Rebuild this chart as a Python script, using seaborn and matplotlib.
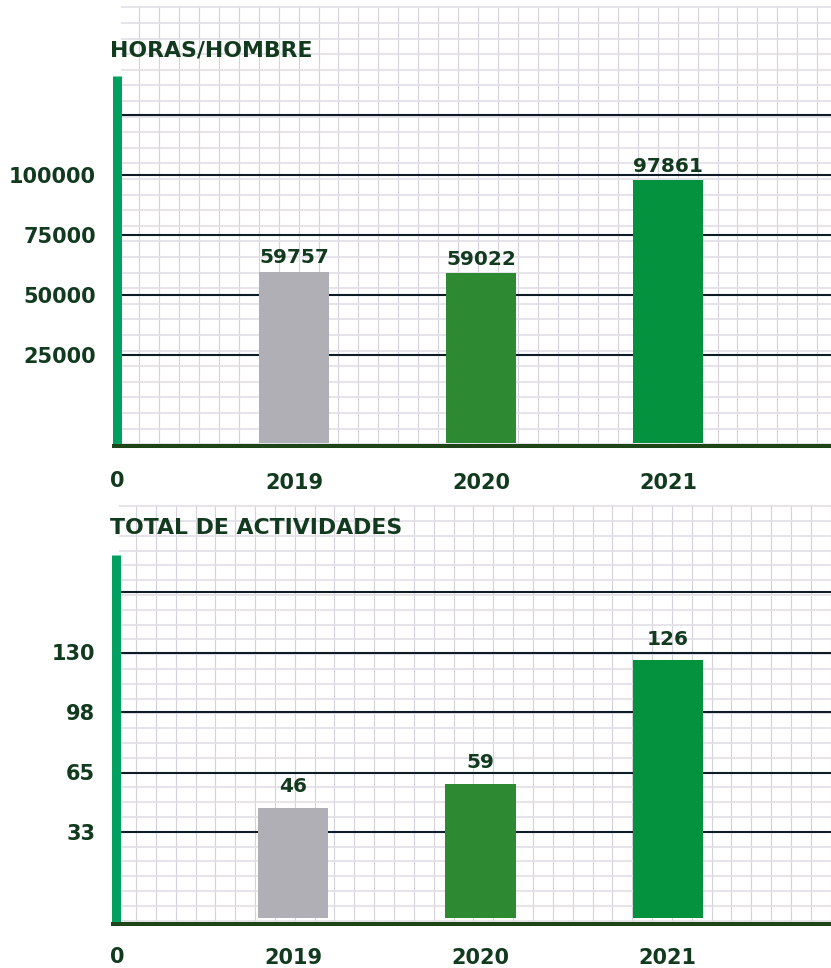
import numpy as np
import pandas as pd
import matplotlib
matplotlib.use("Agg")
import matplotlib.pyplot as plt
import seaborn as sns

# ---- data ----
years = ["2019", "2020", "2021"]
horas_hombre = [59757, 59022, 97861]
actividades = [46, 59, 126]
horas_ticks = [25000, 50000, 75000, 100000, 125000]
horas_ticklabels = ["25000", "50000", "75000", "100000", ""]
act_ticks = [33, 65, 98, 130, 163]
act_ticklabels = ["33", "65", "98", "130", ""]
bar_colors = ["#b0afb5", "#2e8a32", "#04923f"]
titles = ["HORAS/HOMBRE", "TOTAL DE ACTIVIDADES"]

W, H = 831, 968
sns.set_theme(style="white")
plt.rcParams["font.family"] = ["DejaVu Sans"]

TEXT = "#123a1e"
fig = plt.figure(figsize=(W / 100, H / 100), dpi=100)

# background graph paper (decoration, pixel coordinates)
bg = fig.add_axes([0, 0, 1, 1], zorder=0)
bg.set_xlim(0, W)
bg.set_ylim(H, 0)
bg.axis("off")
def paper(x0, x_first, dx, y0, y1, y_first, dy):
    xs = np.arange(x_first, W, dx)
    bg.vlines(xs, y0, y1, color="#d4d1da", lw=0.8)
    ys = np.arange(y_first, y1, dy)
    bg.hlines(ys, x0, W, color="#e2dfe6", lw=1.2)
paper(121, 139, 19.95, 6, 445, 7.4, 15.6)
paper(119, 136, 19.85, 505, 921, 506.2, 14.8)

def panel(top, bottom, left, values, ylo, yhi, base, ticks, ticklabels, title, title_y,
          xpad, label_pad, zero_y):
    ax = fig.add_axes([left / W, 1 - bottom / H, (W - left) / W, (bottom - top) / H], zorder=1)
    ax.patch.set_alpha(0)
    df = pd.DataFrame({"year": years, "value": values})
    sns.barplot(data=df, x="year", y="value", hue="year", palette=bar_colors,
                width=0.374, legend=False, ax=ax, saturation=1)
    for p in ax.patches:
        h = p.get_height()
        p.set_y(base)
        p.set_height(h - base)
        p.set_edgecolor("none")
    for c, v in zip(ax.containers, values):
        ax.bar_label(c, labels=[str(v)], padding=label_pad, fontsize=14.5,
                     fontweight="bold", color=TEXT)
    x0 = -177 / 187
    x1 = (W - 294) / 187
    ax.set_xlim(x0, x1)
    ax.set_ylim(ylo, yhi)
    ax.set_yticks(ticks)
    ax.set_yticklabels(ticklabels)
    ax.set_xlabel("")
    ax.set_ylabel("")
    ax.set_axisbelow(True)
    ax.yaxis.grid(True, color="#0e1c28", lw=1.5)
    ax.xaxis.grid(False)
    ax.tick_params(axis="both", length=0, labelsize=15, labelcolor=TEXT)
    ax.tick_params(axis="y", pad=15)
    ax.tick_params(axis="x", pad=xpad)
    for t in ax.get_xticklabels() + ax.get_yticklabels():
        t.set_fontweight("bold")
    for s in ["top", "right"]:
        ax.spines[s].set_visible(False)
    ax.spines["left"].set_color("#00a061")
    ax.spines["left"].set_linewidth(6.5)
    ax.spines["left"].set_capstyle("butt")
    ax.spines["left"].set_zorder(3)
    ax.spines["bottom"].set_color("#1e4518")
    ax.spines["bottom"].set_linewidth(2.9)
    ax.spines["bottom"].set_capstyle("butt")
    ax.spines["bottom"].set_zorder(4)
    ax.spines["bottom"].set_bounds(x0 - 5 / 187, x1)
    fig.text(110 / W, 1 - title_y / H, title, fontsize=15.8, fontweight="bold",
             color=TEXT, va="baseline", ha="left")
    fig.text(110 / W, 1 - zero_y / H, "0", fontsize=15, fontweight="bold",
             color=TEXT, va="center", ha="left")
    return ax

# top panel: 0 at px 415, 60 px per 25000
s1 = 25000 / 60
panel(76, 446, 117, horas_hombre, -(446 - 415) * s1, (415 - 76) * s1, -(443 - 415) * s1,
      horas_ticks, horas_ticklabels, titles[0], 56, 19.4, 3, 481)
# bottom panel: 0 at px 892.5, 60 px per 32.5
s2 = 32.5 / 60
panel(555, 924, 116, actividades, -(924 - 892.5) * s2, (892.5 - 555) * s2, -(918 - 892.5) * s2,
      act_ticks, act_ticklabels, titles[1], 534, 17.3, 8, 957)

fig.savefig("out.png", dpi=100)
